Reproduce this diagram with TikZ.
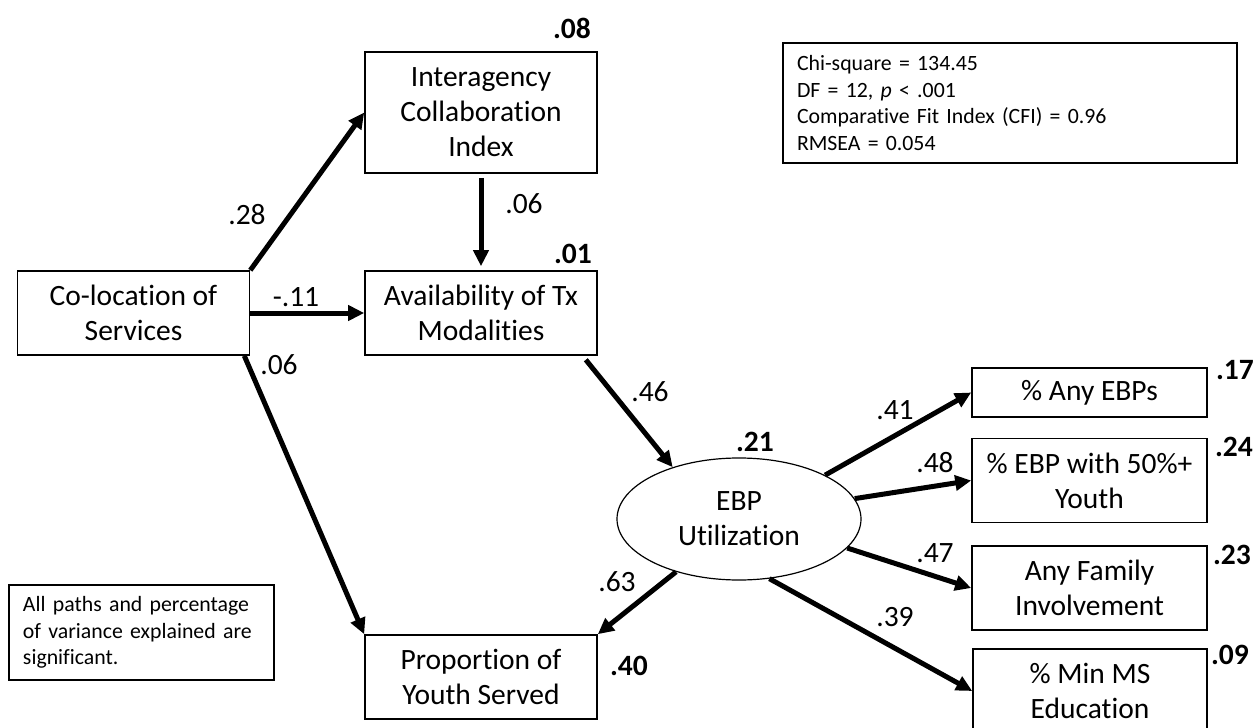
\documentclass[tikz,border=0pt]{standalone}
\usepackage{fontspec}
\setmainfont{Carlito}[Ligatures=NoCommon]
\newfontfamily\notefont{Carlito}[Ligatures=NoCommon, WordSpace=0.8]
\usetikzlibrary{arrows.meta,shapes.geometric}
\begin{document}
\begin{tikzpicture}[x=0.5pt,y=-0.5pt,
  txt/.style={font=\fontsize{14.75pt}{17.5pt}\selectfont},
  box/.style={draw, line width=0.8pt, minimum width=116pt, minimum height=42pt, align=center, inner sep=0pt, txt},
  lab/.style={inner sep=0pt, txt},
  blab/.style={inner sep=0pt, font=\fontsize{14.75pt}{17.5pt}\selectfont\bfseries},
  arr/.style={line width=2.5pt, -{Triangle[length=8pt,width=7.5pt]}},
  infobox/.style={draw, line width=1.3pt, align=left, inner xsep=7pt, inner ysep=0pt, font=\notefont\fontsize{10.9pt}{13.3pt}\selectfont},
]
\fill[white] (0,0) rectangle (1254,728);
\useasboundingbox (0,0) rectangle (1254,728);

% nodes
\node[box] (coloc) at (133.5,313) {Co-location of\\Services};
\node[box, minimum height=60.5pt] (inter) at (481,112.5) {Interagency\\Collaboration\\Index};
\node[box] (avail) at (481,313) {Availability of Tx\\Modalities};
\node[box] (prop) at (481,677) {Proportion of\\Youth Served};
\node[draw, ellipse, line width=0.6pt, minimum width=122pt, minimum height=61pt, inner sep=0pt, align=center, txt] (ebp) at (739,519) {EBP\\Utilization};
\node[box, minimum width=117.5pt, minimum height=24.5pt] (o1) at (1089.5,392.5) {\% Any EBPs};
\node[box, minimum width=117.5pt] (o2) at (1089.5,480.5) {\% EBP with 50\%+\\Youth};
\node[box, minimum width=117.5pt] (o3) at (1089.5,588) {Any Family\\Involvement};
\node[box, minimum width=117pt] (o4) at (1090,691) {\% Min MS\\Education};

\node[infobox, text width=213pt, minimum height=60pt] (stats) at (1010,103) {Chi-square = 134.45\\DF = 12, \textit{p} < .001\\Comparative Fit Index (CFI) = 0.96\\RMSEA = 0.054};
\node[infobox, text width=118.5pt, minimum height=47.5pt] (note) at (141.5,632.5) {All paths and percentage\\of variance explained are\\significant.};

% connectors
\draw[arr] (coloc.north east) -- (inter.west);
\draw[arr, shorten <=2pt, shorten >=2pt] (inter.south) -- (avail.north);
\draw[arr] (coloc.east) -- (avail.west);
\draw[arr] ([xshift=-3pt]coloc.south east) -- (prop.north west);
\draw[arr] ([xshift=-6pt,yshift=-2pt]avail.south east) -- (ebp.142);
\draw[arr] (ebp.220) -- (prop.north east);
\draw[arr] (ebp.27) -- (o1.west);
\draw[arr] (ebp.10) -- (o2.west);
\draw[arr] (ebp.-15) -- (o3.west);
\draw[arr] (ebp.-63) -- (o4.west);

% path coefficients
\node[lab] (c28) at (247,215) {.28};
\node[lab] (c06a) at (524,204) {.06};
\node[lab] (c11) at (296,297) {-.11};
\node[lab] (c06b) at (279,365) {.06};
\node[lab] (c46) at (650,392) {.46};
\node[lab] (c41) at (895,410) {.41};
\node[lab] (c48) at (935,463) {.48};
\node[lab] (c47) at (935,553) {.47};
\node[lab] (c39) at (895,617) {.39};
\node[lab] (c63) at (617,582) {.63};

% variance explained
\node[blab] (r08) at (572,28) {.08};
\node[blab] (r01) at (573,254) {.01};
\node[blab] (r21) at (755,442) {.21};
\node[blab] (r40) at (629,666) {.40};
\node[blab] (r17) at (1235,370) {.17};
\node[blab] (r24) at (1234,447) {.24};
\node[blab] (r23) at (1232,555) {.23};
\node[blab] (r09) at (1230,655) {.09};
\end{tikzpicture}
\end{document}
